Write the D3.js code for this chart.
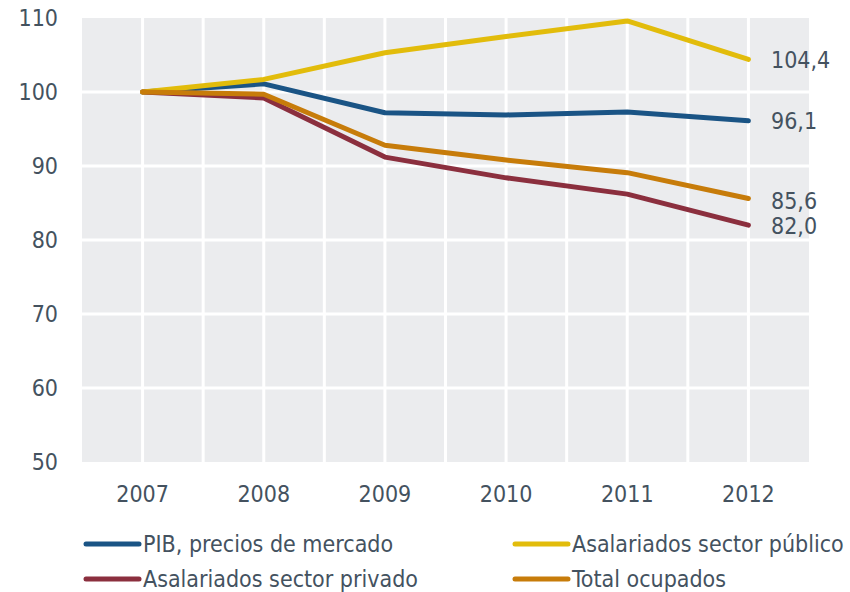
<!DOCTYPE html>
<html>
<head>
<meta charset="utf-8">
<script src="https://cdn.jsdelivr.net/npm/d3@7"></script>
<style>
  body { margin: 0; background: #fff; }
  svg text { font-family: "DejaVu Sans Condensed", "DejaVu Sans", sans-serif; fill: #44525f; }
</style>
</head>
<body>
<svg id="chart" width="850" height="592"></svg>
<script>
const years = [2007, 2008, 2009, 2010, 2011, 2012];
const pib = [100, 101.1, 97.2, 96.9, 97.3, 96.1];
const publico = [100, 101.7, 105.3, 107.5, 109.6, 104.4];
const privado = [100, 99.2, 91.2, 88.4, 86.2, 82.0];
const ocupados = [100, 99.7, 92.8, 90.8, 89.1, 85.6];
const yTicks = [50, 60, 70, 80, 90, 100, 110];

const series = [
    { name: 'PIB, precios de mercado', values: pib, color: '#1a5485', end: '96,1' },
    { name: 'Asalariados sector privado', values: privado, color: '#8b2f3e', end: '82,0' },
    { name: 'Asalariados sector público', values: publico, color: '#e2bc0b', end: '104,4' },
    { name: 'Total ocupados', values: ocupados, color: '#c77c0a', end: '85,6' }
];

const svg = d3.select('#chart');
const plot = { left: 82, right: 809, top: 18, bottom: 462 };

const x = d3.scaleLinear().domain([2006.5, 2012.5]).range([plot.left, plot.right]);
const y = d3.scaleLinear().domain([50, 110]).range([plot.bottom, plot.top]);

// plot background
svg.append('rect')
    .attr('x', plot.left).attr('y', plot.top)
    .attr('width', plot.right - plot.left).attr('height', plot.bottom - plot.top)
    .attr('fill', '#ebecee');

// white grid: vertical every half year, horizontal every 10
const vGrid = d3.range(2007, 2012.5, 0.5);
svg.append('g').selectAll('line').data(vGrid).join('line')
    .attr('x1', d => x(d)).attr('x2', d => x(d))
    .attr('y1', plot.top).attr('y2', plot.bottom)
    .attr('stroke', '#fff').attr('stroke-width', 3);

svg.append('g').selectAll('line').data(yTicks.slice(1, -1)).join('line')
    .attr('x1', plot.left).attr('x2', plot.right)
    .attr('y1', d => y(d)).attr('y2', d => y(d))
    .attr('stroke', '#fff').attr('stroke-width', 3);

// y tick labels
svg.append('g').selectAll('text').data(yTicks).join('text')
    .attr('x', 58).attr('y', d => y(d))
    .attr('dy', '0.36em')
    .attr('text-anchor', 'end')
    .style('font-size', '23px')
    .text(d => d);

// x tick labels
svg.append('g').selectAll('text').data(years).join('text')
    .attr('x', d => x(d)).attr('y', 502)
    .attr('text-anchor', 'middle')
    .style('font-size', '23px')
    .text(d => d);

const line = d3.line()
    .x((d, i) => x(years[i]))
    .y(d => y(d));

series.forEach(s => {
    svg.append('path')
        .datum(s.values)
        .attr('d', line)
        .attr('fill', 'none')
        .attr('stroke', s.color)
        .attr('stroke-width', 5)
        .attr('stroke-linecap', 'round')
        .attr('stroke-linejoin', 'round');
});

// end labels
const endOffsets = { '104,4': 0, '96,1': 0, '85,6': 2, '82,0': 1 };
series.forEach(s => {
    const last = s.values[s.values.length - 1];
    svg.append('text')
        .attr('x', 771)
        .attr('y', y(last) + endOffsets[s.end])
        .attr('dy', '0.36em')
        .style('font-size', '23px')
        .text(s.end);
});

// legend
const legendItems = [
    { s: series[0], x: 86, y: 544 },
    { s: series[2], x: 515, y: 544 },
    { s: series[1], x: 86, y: 579 },
    { s: series[3], x: 515, y: 579 }
];
legendItems.forEach(item => {
    svg.append('line')
        .attr('x1', item.x).attr('x2', item.x + 53)
        .attr('y1', item.y).attr('y2', item.y)
        .attr('stroke', item.s.color)
        .attr('stroke-width', 5)
        .attr('stroke-linecap', 'round');
    svg.append('text')
        .attr('x', item.x + 57).attr('y', item.y)
        .attr('dy', '0.36em')
        .style('font-size', '23px')
        .text(item.s.name);
});
</script>
</body>
</html>
